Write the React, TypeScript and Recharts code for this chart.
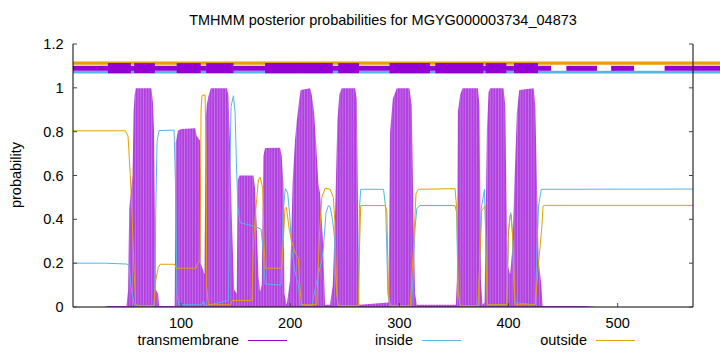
import React from 'react';
import { ComposedChart, Line, Area, XAxis, YAxis, ReferenceArea, Legend } from 'recharts';

// ---- axis ticks ----
const xTicks = [100, 200, 300, 400, 500];
const yTicks = [0, 0.2, 0.4, 0.6, 0.8, 1, 1.2];
const xDomain: [number, number] = [1, 569];
const yDomain: [number, number] = [0, 1.2];

// ---- posterior probabilities: [position, probability] ----
const transmembranePts: [number, number][] = [
  [1, 0], [30, 0], [33, 0.005], [50, 0.005], [51.5, 0.08], [52.5, 0.45], [54, 0.52], [55.5, 0.6],
  [56.6, 0.9], [57.5, 0.97], [58.5, 0.998], [72.8, 0.998], [74.3, 0.93], [75.2, 0.8], [76.2, 0.4],
  [76.8, 0.08], [79, 0.06], [79.8, 0.005], [94.2, 0.005], [95.1, 0.75], [97.2, 0.805], [100.3, 0.812],
  [113, 0.816], [114.3, 0.78], [117.4, 0.76], [118, 0.2], [121.5, 0.15], [122.5, 0.85], [123.5, 0.92],
  [125, 0.96], [127.2, 0.998], [141.8, 0.998], [143.4, 0.97], [144.9, 0.73], [146.4, 0.42],
  [148.6, 0.08], [151, 0.06], [151.9, 0.58], [153.4, 0.6], [166.3, 0.6], [167.8, 0.54], [169.3, 0.37],
  [170.9, 0.14], [172.4, 0.07], [173.9, 0.1], [175.4, 0.69], [177, 0.725], [190.7, 0.727],
  [192.2, 0.69], [193.8, 0.56], [194.7, 0.06], [196.8, 0.01], [199.8, 0.12], [202.3, 0.58],
  [204.4, 0.76], [206, 0.85], [208.4, 0.95], [209.6, 0.99], [218.2, 0.998], [219.7, 0.97],
  [221.8, 0.89], [223.7, 0.75], [225.8, 0.56], [227.3, 0.52], [229.8, 0.32], [231.9, 0.01],
  [236.5, 0.01], [239, 0.1], [241, 0.4], [243.2, 0.85], [245, 0.97], [247.2, 0.998], [259.4, 0.998],
  [261, 0.95], [262.5, 0.28], [263.4, 0.01], [290, 0.02], [291.5, 0.8], [294, 0.95], [297.6, 0.998],
  [309.2, 0.998], [311.3, 0.92], [312.9, 0.42], [314.4, 0.06], [316, 0.01], [351.7, 0.01],
  [352.7, 0.12], [353.6, 0.89], [355.7, 0.97], [357.9, 0.998], [371.9, 0.998], [373.4, 0.92],
  [374.7, 0.12], [376.2, 0.01], [378, 0.02], [380.2, 0.81], [381.7, 0.98], [383.2, 0.998],
  [395.4, 0.998], [397, 0.92], [397.9, 0.58], [399.1, 0.19], [401.5, 0.15], [403.7, 0.28],
  [405.5, 0.58], [407.7, 0.89], [409.8, 0.99], [423, 0.998], [424.5, 0.92], [426, 0.58],
  [427.5, 0.22], [430, 0.1], [431.2, 0.005], [470, 0.005], [480, 0], [569, 0],
];

const insidePts: [number, number][] = [
  [1, 0.2], [30, 0.2], [50, 0.196], [52.3, 0.19], [54.5, 0.08], [56.6, 0.02], [58, 0.005],
  [75.9, 0.005], [76.8, 0.43], [78, 0.755], [79.8, 0.805], [93.6, 0.807], [94.8, 0.58], [96.3, 0.06],
  [98, 0.01], [119, 0.01], [120, 0.025], [121, 0.025], [122, 0.005], [143.4, 0.03], [144.6, 0.58],
  [145.8, 0.915], [148, 0.964], [149.5, 0.885], [150.7, 0.66], [152, 0.46], [154, 0.385],
  [167.8, 0.367], [173.3, 0.355], [175.4, 0.245], [177, 0.105], [191.6, 0.1], [193.5, 0.43],
  [195.5, 0.541], [197.7, 0.52], [199.5, 0.42], [201.5, 0.26], [204.4, 0.16], [207.5, 0.1],
  [209, 0.01], [220, 0.005], [222.7, 0.08], [225.8, 0.15], [227.3, 0.18], [229.5, 0.23],
  [230.4, 0.27], [232.8, 0.43], [235, 0.463], [236.5, 0.458], [238.7, 0.4], [240.5, 0.32],
  [241.7, 0.12], [243.6, 0.02], [245, 0.005], [262.5, 0.005], [263.4, 0.45], [264.6, 0.537],
  [285.5, 0.537], [287.5, 0.45], [289.5, 0.06], [292, 0.005], [311.3, 0.005], [314.4, 0.36],
  [316, 0.45], [319, 0.463], [351, 0.463], [352.5, 0.43], [353.6, 0.1], [355.5, 0.005],
  [372.5, 0.005], [375, 0.45], [378, 0.537], [379.2, 0.3], [380.5, 0.01], [398.5, 0.01],
  [400, 0.35], [402, 0.43], [403.5, 0.35], [405.5, 0.02], [424.5, 0.01], [426, 0.25],
  [427.5, 0.46], [430, 0.537], [569, 0.538],
];

const outsidePts: [number, number][] = [
  [1, 0.804], [49, 0.804], [51.4, 0.78], [53.5, 0.6], [55.4, 0.38], [57, 0.16], [58.4, 0.015],
  [60, 0.005], [75, 0.005], [76.8, 0.12], [79, 0.18], [81, 0.195], [94, 0.195], [95.7, 0.177],
  [114, 0.177], [115, 0.2], [117.4, 0.21], [118.3, 0.9], [119.2, 0.965], [122, 0.968],
  [122.9, 0.73], [123.5, 0.09], [125, 0.01], [145, 0.01], [147, 0.03], [165, 0.03], [166, 0.25],
  [167.7, 0.4], [170.8, 0.58], [172.5, 0.592], [174.8, 0.54], [176, 0.3], [177, 0.177],
  [192.2, 0.177], [193.7, 0.3], [195.2, 0.45], [196.5, 0.455], [199.2, 0.35], [201.4, 0.3],
  [204.4, 0.25], [207.5, 0.22], [209, 0.08], [210.5, 0.01], [224.3, 0.01], [226.7, 0.32],
  [228.9, 0.5], [232, 0.542], [236.5, 0.537], [239.5, 0.5], [241, 0.38], [242.6, 0.06],
  [244, 0.005], [262.5, 0.005], [263.4, 0.25], [264.6, 0.463], [287, 0.463], [288.5, 0.44],
  [290, 0.06], [291.5, 0.005], [310, 0.005], [313, 0.28], [315.3, 0.52], [317.5, 0.537],
  [351, 0.54], [352.7, 0.44], [354, 0.06], [355.7, 0.005], [372, 0.005], [375.5, 0.44],
  [378.6, 0.463], [379.5, 0.2], [380.5, 0.01], [398.5, 0.01], [400, 0.35], [401.5, 0.42],
  [402.5, 0.42], [404, 0.3], [406, 0.01], [424.5, 0.01], [427.5, 0.2], [429, 0.28],
  [430.6, 0.37], [431.6, 0.46], [433, 0.4637], [569, 0.4637],
];

// ---- predicted topology strip near y = 1.1 ----
const stripStart = 1;
const stripEnd = 594;
const tmThickSegments: [number, number][] = [
  [33, 54], [57, 76], [96, 118], [123, 148], [177, 208], [208, 239], [244, 263],
  [291, 328], [333, 377], [379, 398], [405, 427],
];
const tmThinSegments: [number, number][] = [
  [1, 439], [453, 481], [494, 515], [543, 594],
];
const outsideBand: [number, number] = [1.105, 1.12];
const insideBand: [number, number] = [1.0653, 1.0776];
const tmThickBand: [number, number] = [1.0671, 1.1128];
const tmThinBand: [number, number] = [1.0776, 1.1005];

const TITLE = 'TMHMM posterior probabilities for MGYG000003734_04873';
const Y_LABEL = 'probability';
const seriesNames = ['transmembrane', 'inside', 'outside'];

const TM_COLOR = '#9400d3';
const TM_FILL = '#b23fe0';
const IN_COLOR = '#56b4e9';
const OUT_COLOR = '#e69f00';
const FONT = '"Liberation Sans", Arial, Helvetica, sans-serif';
const FS = 14.5;

const toRows = (pts: [number, number][]) => pts.map(([x, y]) => ({ x, y }));
const tmData = toRows(transmembranePts);
const inData = toRows(insidePts);
const outData = toRows(outsidePts);

const legendColors = [TM_COLOR, IN_COLOR, OUT_COLOR];
const legendTextRight = [239, 413, 587];

const LegendContent = () => (
  <svg width={720} height={24} style={{ display: 'block' }}>
    {seriesNames.map((name, i) => (
      <g key={name}>
        <text
          x={legendTextRight[i]}
          y={16}
          textAnchor="end"
          fontFamily={FONT}
          fontSize={FS}
          fill="#000"
        >
          {name}
        </text>
        <line
          x1={legendTextRight[i] + 9}
          x2={legendTextRight[i] + 48}
          y1={11.5}
          y2={11.5}
          stroke={legendColors[i]}
          strokeWidth={1}
        />
      </g>
    ))}
  </svg>
);

export default function App() {
  const tickStyle = { fill: '#000', fontSize: FS, fontFamily: FONT };
  return (
    <div
      style={{
        position: 'absolute',
        left: 0,
        top: 0,
        width: 720,
        height: 352,
        background: '#fff',
        fontFamily: FONT,
      }}
    >
      <svg width={0} height={0} style={{ position: 'absolute' }}>
        <defs>
          <pattern id="tmStripes" patternUnits="userSpaceOnUse" x={73} y={0} width={2.73} height={10}>
            <rect x={0} y={0} width={2.73} height={10} fill={TM_FILL} />
            <rect x={1.9} y={0} width={0.5} height={10} fill="#d19aee" />
          </pattern>
        </defs>
      </svg>
      <div
        style={{
          position: 'absolute',
          left: 73,
          top: 12,
          width: 620,
          textAlign: 'center',
          fontSize: FS,
          color: '#000',
          zIndex: 2,
          whiteSpace: 'nowrap',
        }}
      >
        {TITLE}
      </div>
      <div
        style={{
          position: 'absolute',
          left: 16,
          top: 175,
          transform: 'translate(-50%, -50%) rotate(-90deg)',
          fontSize: FS,
          color: '#000',
          zIndex: 2,
          whiteSpace: 'nowrap',
        }}
      >
        {Y_LABEL}
      </div>
      <ComposedChart width={720} height={352} margin={{ top: 44, right: 7, bottom: 15, left: 13 }}>
        <XAxis
          xAxisId="b"
          dataKey="x"
          type="number"
          domain={xDomain}
          ticks={xTicks}
          allowDataOverflow
          height={30}
          tickSize={-4}
          tickMargin={14.5}
          tick={tickStyle}
          tickLine={{ stroke: '#444' }}
          axisLine={{ stroke: '#000' }}
        />
        <XAxis
          xAxisId="t"
          orientation="top"
          dataKey="x"
          type="number"
          domain={xDomain}
          ticks={xTicks}
          allowDataOverflow
          height={0}
          tickSize={-4}
          tickFormatter={() => ''}
          tickLine={{ stroke: '#444' }}
          axisLine={{ stroke: '#000' }}
        />
        <YAxis
          yAxisId="l"
          type="number"
          domain={yDomain}
          ticks={yTicks}
          allowDataOverflow
          width={60}
          tickSize={-4}
          tickMargin={13.5}
          tick={tickStyle}
          tickFormatter={(v: number) => String(v)}
          tickLine={{ stroke: '#444' }}
          axisLine={{ stroke: '#000' }}
        />
        <YAxis
          yAxisId="r"
          orientation="right"
          type="number"
          domain={yDomain}
          ticks={yTicks}
          allowDataOverflow
          width={20}
          tickSize={-4}
          tickFormatter={() => ''}
          tickLine={{ stroke: '#444' }}
          axisLine={{ stroke: '#000' }}
        />

        {/* topology strip */}
        <ReferenceArea
          xAxisId="b"
          yAxisId="l"
          x1={stripStart}
          x2={stripEnd}
          y1={outsideBand[0]}
          y2={outsideBand[1]}
          fill={OUT_COLOR}
          fillOpacity={1}
          stroke="none"
          ifOverflow="visible"
        />
        <ReferenceArea
          xAxisId="b"
          yAxisId="l"
          x1={stripStart}
          x2={stripEnd}
          y1={insideBand[0]}
          y2={insideBand[1]}
          fill={IN_COLOR}
          fillOpacity={1}
          stroke="none"
          ifOverflow="visible"
        />
        {tmThinSegments.map(([a, b], i) => (
          <ReferenceArea
            key={'thin' + i}
            xAxisId="b"
            yAxisId="l"
            x1={a}
            x2={b}
            y1={tmThinBand[0]}
            y2={tmThinBand[1]}
            fill={TM_COLOR}
            fillOpacity={1}
            stroke="none"
            ifOverflow="visible"
          />
        ))}
        {tmThickSegments.map(([a, b], i) => (
          <ReferenceArea
            key={'thick' + i}
            xAxisId="b"
            yAxisId="l"
            x1={a}
            x2={b}
            y1={tmThickBand[0]}
            y2={tmThickBand[1]}
            fill={TM_COLOR}
            fillOpacity={1}
            stroke="none"
            ifOverflow="visible"
          />
        ))}

        <Area
          xAxisId="b"
          yAxisId="l"
          data={tmData}
          dataKey="y"
          name={seriesNames[0]}
          type="linear"
          fill="url(#tmStripes)"
          fillOpacity={1}
          stroke="none"
          isAnimationActive={false}
          dot={false}
          activeDot={false}
        />
        <Line
          xAxisId="b"
          yAxisId="l"
          data={inData}
          dataKey="y"
          name={seriesNames[1]}
          type="linear"
          stroke={IN_COLOR}
          strokeWidth={1}
          dot={false}
          activeDot={false}
          isAnimationActive={false}
        />
        <Line
          xAxisId="b"
          yAxisId="l"
          data={outData}
          dataKey="y"
          name={seriesNames[2]}
          type="linear"
          stroke={OUT_COLOR}
          strokeWidth={1}
          dot={false}
          activeDot={false}
          isAnimationActive={false}
        />
        <Legend
          layout="vertical"
          align="center"
          verticalAlign="middle"
          content={LegendContent}
          wrapperStyle={{ position: 'absolute', left: 0, top: 329, width: 720, height: 24 }}
        />
      </ComposedChart>
    </div>
  );
}
